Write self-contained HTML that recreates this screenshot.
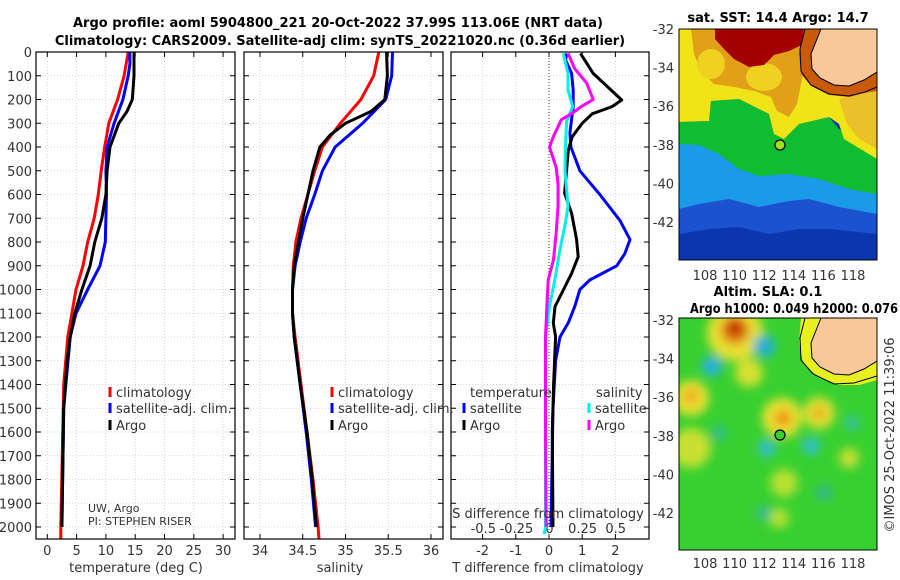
<!DOCTYPE html>
<html><head><meta charset="utf-8">
<style>
body{margin:0;background:#fff;}
svg{display:block;font-family:"DejaVu Sans","Liberation Sans",sans-serif;}
.t{font-size:13px;fill:#333;}
.b{font-size:13px;font-weight:bold;fill:#000;}
</style></head>
<body>
<svg id="c" width="900" height="580" viewBox="0 0 900 580">
<defs>
<clipPath id="m1c"><rect x="0" y="0" width="198" height="231"/></clipPath>
<clipPath id="m2c"><rect x="0" y="0" width="198" height="232"/></clipPath>
<filter id="bl2"><feGaussianBlur stdDeviation="5"/></filter>
</defs>
<text class="b" x="338" y="27" text-anchor="middle">Argo profile: aoml 5904800_221 20-Oct-2022 37.99S 113.06E (NRT data)</text>
<text class="b" x="340" y="45" text-anchor="middle">Climatology: CARS2009. Satellite-adj clim: synTS_20221020.nc (0.36d earlier)</text>
<g id="plots"></g>

<!-- SST map -->
<text class="b" x="778" y="22" text-anchor="middle">sat. SST: 14.4 Argo: 14.7</text>
<g transform="translate(679,29)" clip-path="url(#m1c)">
<rect width="198" height="231" fill="#0c36b0"/>
<path d="M0,150 L198,150 L198,205 L150,200 L120,200 L90,205 L60,198 L30,200 L0,205Z" fill="#1a52d0"/>
<path d="M0,112 L198,112 L198,185 L160,178 L130,170 L110,172 L80,178 L50,170 L20,175 L0,180Z" fill="#1c9aea"/>
<path d="M0,93 L30,92 L32,72 L60,70 L90,85 L150,88 L160,100 L198,128 L198,165 L170,160 L140,150 L110,145 L80,147 L60,140 L40,125 L20,116 L0,115Z" fill="#10bc30"/>
<path d="M0,0 L198,0 L198,130 L165,110 L160,95 L150,88 L120,95 L105,110 L95,105 L90,85 L60,70 L32,72 L30,92 L0,93Z" fill="#f0e418"/>
<path d="M12,0 L140,0 L125,40 L118,75 L110,88 L98,82 L92,68 L75,62 L55,58 L35,55 L22,42 L15,25Z" fill="#e0a018"/>
<ellipse cx="32" cy="35" rx="14" ry="15" fill="#f0d020"/>
<ellipse cx="85" cy="48" rx="18" ry="14" fill="#f0d020"/>
<path d="M160,70 L198,60 L198,120 L180,110 L168,95Z" fill="#ecc028"/>
<path d="M36,0 L127,0 L125,15 L110,22 L95,26 L85,36 L70,38 L55,30 L45,20 L36,10Z" fill="#a40000"/>
<path d="M125,0 L198,0 L198,62 L185,64 L170,68 L150,66 L132,57 L122,45 L120,25Z" fill="#c85a08"/>
<path d="M142,0 L198,0 L198,43 L185,51 L170,57 L155,56 L141,49 L133,40 L132,25 L138,10Z" fill="#f8c898" stroke="#000" stroke-width="1"/>
<path d="M126,0 L121,20 L122,42 L132,56 L150,65 L170,67 L186,63 L198,58" fill="none" stroke="#000" stroke-width="1"/>
<circle cx="101" cy="116" r="5" fill="#a0e020" stroke="#000" stroke-width="1.2"/>
</g>
<rect x="679" y="29" width="198" height="231" fill="none" stroke="#000" stroke-width="1"/>
<g id="m1ax"></g>

<!-- SLA map -->
<text class="b" x="768" y="296" text-anchor="middle">Altim. SLA: 0.1</text>
<text class="b" x="898" y="313" text-anchor="end" textLength="208" lengthAdjust="spacingAndGlyphs">Argo h1000: 0.049 h2000: 0.076</text>
<g transform="translate(679,318)" clip-path="url(#m2c)">
<rect width="198" height="232" fill="#38d030"/>
<g filter="url(#bl2)">
<circle cx="56" cy="15" r="28" fill="#e8e030"/>
<circle cx="70" cy="55" r="14" fill="#d8e030"/>
<circle cx="12" cy="80" r="18" fill="#e8e030"/>
<circle cx="103" cy="100" r="20" fill="#e8e030"/>
<circle cx="140" cy="95" r="16" fill="#e0e030"/>
<circle cx="12" cy="130" r="20" fill="#c8e030"/>
<circle cx="105" cy="165" r="14" fill="#b8e030"/>
<circle cx="170" cy="140" r="10" fill="#c8e030"/>
<circle cx="100" cy="200" r="10" fill="#b8e030"/>
<circle cx="56" cy="12" r="14" fill="#e07010"/>
<circle cx="56" cy="10" r="7" fill="#b82000"/>
<circle cx="12" cy="78" r="7" fill="#f0a020"/>
<circle cx="104" cy="100" r="8" fill="#f08a10"/>
<circle cx="140" cy="95" r="6" fill="#f0a020"/>
<circle cx="85" cy="28" r="11" fill="#20b0d8"/>
<circle cx="33" cy="48" r="10" fill="#28b0e0"/>
<circle cx="88" cy="130" r="9" fill="#30c0c8"/>
<circle cx="132" cy="128" r="9" fill="#30c0c8"/>
<circle cx="173" cy="105" r="7" fill="#30c0b0"/>
<circle cx="40" cy="115" r="7" fill="#30b8a0"/>
<circle cx="85" cy="195" r="7" fill="#30b8a0"/>
<circle cx="145" cy="175" r="8" fill="#30b890"/>
</g>
<path d="M122,0 L198,0 L198,62 L180,67 L160,67 L138,58 L124,45 L120,25Z" fill="#e8f020"/>
<path d="M142,0 L198,0 L198,43 L185,51 L170,57 L155,56 L141,49 L133,40 L132,25 L138,10Z" fill="#f8c898" stroke="#000" stroke-width="1"/>
<path d="M126,0 L121,20 L122,42 L134,56 L155,66 L175,65 L198,58" fill="none" stroke="#000" stroke-width="1"/>
<circle cx="101" cy="117" r="5" fill="#38d030" stroke="#000" stroke-width="1.2"/>
</g>
<rect x="679" y="318" width="198" height="232" fill="none" stroke="#000" stroke-width="1"/>
<g id="m2ax"></g>
<text class="t" transform="translate(894,435) rotate(-90)" text-anchor="middle">©IMOS 25-Oct-2022 11:39:06</text>
</svg>
<script>
const tDepth = [0,100,200,250,300,400,500,600,700,800,900,1000,1100,1200,1300,1500,2000];
const tArgo  = [14.8,14.8,14.5,13.6,12.2,10.7,10.2,10.0,9.3,8.1,7.3,5.9,4.7,3.9,3.4,2.8,2.5];
const tClimDepth = [0,100,200,300,400,500,600,700,800,900,1000,1100,1200,1400,2000,2050];
const tClim = [13.8,13.1,12.0,10.5,9.8,9.2,8.7,8.0,6.9,6.1,4.9,4.2,3.5,2.8,2.3,2.3];
const tSatDepth = [0,50,100,200,300,400,500,600,700,800,900,1000,1100,1200,1500,2000];
const tSat = [14.1,14.1,13.8,12.9,11.4,10.2,10.0,10.1,10.0,9.9,9.0,6.9,4.9,3.9,2.8,2.5];

const sDepth = [0,100,200,250,300,350,400,500,600,700,800,900,1000,1100,1200,1400,1600,1800,2000];
const sArgo = [35.48,35.49,35.46,35.30,35.00,34.82,34.70,34.62,34.56,34.50,34.45,34.40,34.38,34.38,34.40,34.47,34.55,34.61,34.66];
const sClimDepth = [0,100,200,300,400,500,600,700,800,900,1000,1100,1200,1400,1600,1800,2000,2050];
const sClim = [35.39,35.33,35.18,34.94,34.73,34.64,34.56,34.48,34.42,34.39,34.38,34.38,34.41,34.48,34.55,34.62,34.68,34.69];
const sSatDepth = [0,100,200,300,400,500,600,700,800,900,1000,1100,1200,1400,1600,1800,2000];
const sSat = [35.55,35.54,35.47,35.20,34.88,34.73,34.64,34.54,34.47,34.41,34.38,34.38,34.40,34.47,34.54,34.60,34.65];

const dTArgoDepth = [6,90,202,230,260,300,357,413,594,679,790,862,932,1002,1072,1141,1199,1400,1600,2000];
const dTArgo = [0.95,1.33,2.19,1.9,1.3,1.0,0.7,0.58,0.47,0.68,0.83,0.88,0.68,0.43,0.18,0.13,0.2,0.14,0.1,0.12];
const dTSatDepth = [6,35,90,160,230,340,400,500,600,710,790,850,900,960,1000,1070,1140,1200,1300,1500,2000];
const dTSat = [0.53,0.5,0.68,0.73,0.73,0.63,0.66,0.93,1.53,2.14,2.44,2.28,2.04,1.23,0.93,0.78,0.58,0.33,0.2,0.12,0.06];
const dSSatDepth = [6,90,160,230,290,400,500,650,720,830,960,1070,1200,1600,2000,2030];
const dSSat = [0.104,0.14,0.14,0.175,0.13,0.12,0.117,0.14,0.12,0.08,0.04,0.0,-0.03,-0.03,-0.03,-0.04];
const dSArgoDepth = [6,70,130,200,230,255,285,355,400,485,555,650,765,875,960,1070,1200,1600,2000];
const dSArgo = [0.14,0.19,0.28,0.33,0.24,0.18,0.09,0.03,0.0,0.05,0.065,0.065,0.05,0.03,-0.01,-0.02,-0.03,-0.03,-0.025];

const depthTicks = [0,100,200,300,400,500,600,700,800,900,1000,1100,1200,1300,1400,1500,1600,1700,1800,1900,2000];
const tTicks = [0,5,10,15,20,25,30];
const sTicks = [34,34.5,35,35.5,36];
const dTTicks = [-2,-1,0,1,2];
const dSTicks = [-0.5,-0.25,0,0.25,0.5];
const dSTickLabels = ['-0.5','-0.25','0','0.25','0.5'];

const NS='http://www.w3.org/2000/svg';
const G=document.getElementById('plots');
function el(tag,attrs,parent){const e=document.createElementNS(NS,tag);for(const k in attrs)e.setAttribute(k,attrs[k]);(parent||G).appendChild(e);return e;}
const yD = d => 52 + 0.2375*d;
const xT = v => 47.3 + 5.86*v;
const xS = v => 260 + 85.5*(v-34);
const xDT = v => 549 + 33.2*v;
const xDS = v => 549.5 + 132.4*v;

const panels=[{x0:36,x1:235,name:'temperature-panel'},{x0:244,x1:443,name:'salinity-panel'},{x0:451,x1:649,name:'difference-panel'}];
panels.forEach((p,i)=>{
  depthTicks.forEach(d=>{
    const l=el('line',{x1:p.x0,x2:p.x1,y1:yD(d),y2:yD(d),stroke:'#c8c8e8','stroke-width':0.8,'stroke-dasharray':'1,2'});
    
    
    el('line',{x1:p.x0,x2:p.x0+5,y1:yD(d),y2:yD(d),stroke:'#000','stroke-width':1});
    el('line',{x1:p.x1-5,x2:p.x1,y1:yD(d),y2:yD(d),stroke:'#000','stroke-width':1});
  });
});
function xgrid(ticks,fx,p,labels){
  ticks.forEach((v,j)=>{
    const x=fx(v);
    const l=el('line',{x1:x,x2:x,y1:52,y2:539,stroke:'#c8c8e8','stroke-width':0.8,'stroke-dasharray':'1,2'});
    
    
    el('line',{x1:x,x2:x,y1:534,y2:539,stroke:'#000'});
    el('line',{x1:x,x2:x,y1:52,y2:57,stroke:'#000'});
    if(labels){const t=el('text',{x:x,y:555,'text-anchor':'middle',class:'t'});t.textContent=labels[j];
      
      }
  });
}
xgrid(tTicks,xT,panels[0],tTicks.map(String));
xgrid(sTicks,xS,panels[1],sTicks.map(String));
xgrid(dTTicks,xDT,panels[2],dTTicks.map(String));
el('line',{x1:xDT(0),x2:xDT(0),y1:52,y2:539,stroke:'#305020','stroke-width':1,'stroke-dasharray':'1,2'});
depthTicks.forEach(d=>{const t=el('text',{x:32,y:yD(d)+5,'text-anchor':'end',class:'t'});t.textContent=d;
  
  });
dSTicks.forEach((v,j)=>{const t=el('text',{x:xDS(v),y:533,'text-anchor':'middle',class:'t',fill:'#000'});t.textContent=dSTickLabels[j];
  
  });

function line(xs,ds,fx,color,name){
  const pts=xs.map((v,i)=>fx(v).toFixed(1)+','+yD(ds[i]).toFixed(1)).join(' ');
  const pl=el('polyline',{points:pts,fill:'none',stroke:color,'stroke-width':3,'stroke-linejoin':'round'});
  
  
}
line(tClim,tClimDepth,xT,'#f00','temp-climatology-line');
line(tSat,tSatDepth,xT,'#00f','temp-satellite-line');
line(tArgo,tDepth,xT,'#000','temp-argo-line');
line(sClim,sClimDepth,xS,'#f00','sal-climatology-line');
line(sSat,sSatDepth,xS,'#00f','sal-satellite-line');
line(sArgo,sDepth,xS,'#000','sal-argo-line');
line(dTSat,dTSatDepth,xDT,'#00f','tdiff-satellite-line');
line(dTArgo,dTArgoDepth,xDT,'#000','tdiff-argo-line');
line(dSSat,dSSatDepth,xDS,'#0ee','sdiff-satellite-line');
line(dSArgo,dSArgoDepth,xDS,'#f0f','sdiff-argo-line');

panels.forEach(p=>{const r=el('rect',{x:p.x0,y:52,width:p.x1-p.x0,height:487,fill:'none',stroke:'#000','stroke-width':1.2});
  
  });

function txt(x,y,s,name,opts){const t=el('text',Object.assign({x:x,y:y,class:'t'},opts||{}));t.textContent=s;
  
  return t;}
txt(136,572,'temperature (deg C)','x-axis-title-temperature',{'text-anchor':'middle'});
txt(340,572,'salinity','x-axis-title-salinity',{'text-anchor':'middle'});
txt(548,572,'T difference from climatology','x-axis-title-tdiff',{'text-anchor':'middle'});
txt(548,518,'S difference from climatology','s-diff-axis-title',{'text-anchor':'middle',fill:'#000'});
txt(88,512,'UW, Argo','institution-label',{style:'font-size:11px',fill:'#000'});
txt(88,525,'PI: STEPHEN RISER','pi-label',{style:'font-size:11px',fill:'#000'});

function legend(x,y,color,label,name){
  el('line',{x1:x,x2:x,y1:y-10,y2:y,stroke:color,'stroke-width':3});
  txt(x+6,y,label,name,{fill:'#000'});
}
legend(110,397,'#f00','climatology','legend-climatology');
legend(110,413,'#00f','satellite-adj. clim.','legend-satellite');
legend(110,430,'#000','Argo','legend-argo');
legend(332,397,'#f00','climatology','legend-sal-climatology');
legend(332,413,'#00f','satellite-adj. clim.','legend-sal-satellite');
legend(332,430,'#000','Argo','legend-sal-argo');
txt(470,397,'temperature','legend-temperature-header',{fill:'#000'});
legend(464,413,'#00f','satellite','legend-tdiff-satellite');
legend(464,430,'#000','Argo','legend-tdiff-argo');
txt(596,397,'salinity','legend-salinity-header',{fill:'#000'});
legend(589,413,'#0ee','satellite','legend-sdiff-satellite');
legend(589,430,'#f0f','Argo','legend-sdiff-argo');

const lats=[-32,-34,-36,-38,-40,-42];
const lons=[108,110,112,114,116,118];
function mapAxes(gid,top,lonY){
  const g=document.getElementById(gid);
  lats.forEach(la=>{const y=top+(-32-la)*19.3;
    const t=el('text',{x:674,y:y+5,'text-anchor':'end',class:'t'},g);t.textContent=la;
    
    });
  lons.forEach(lo=>{const x=705+(lo-108)*14.8;
    const t=el('text',{x:x,y:lonY,'text-anchor':'middle',class:'t'},g);t.textContent=lo;
    
    });
}
mapAxes('m1ax',29,280);
mapAxes('m2ax',320,568);
</script>
</body></html>
